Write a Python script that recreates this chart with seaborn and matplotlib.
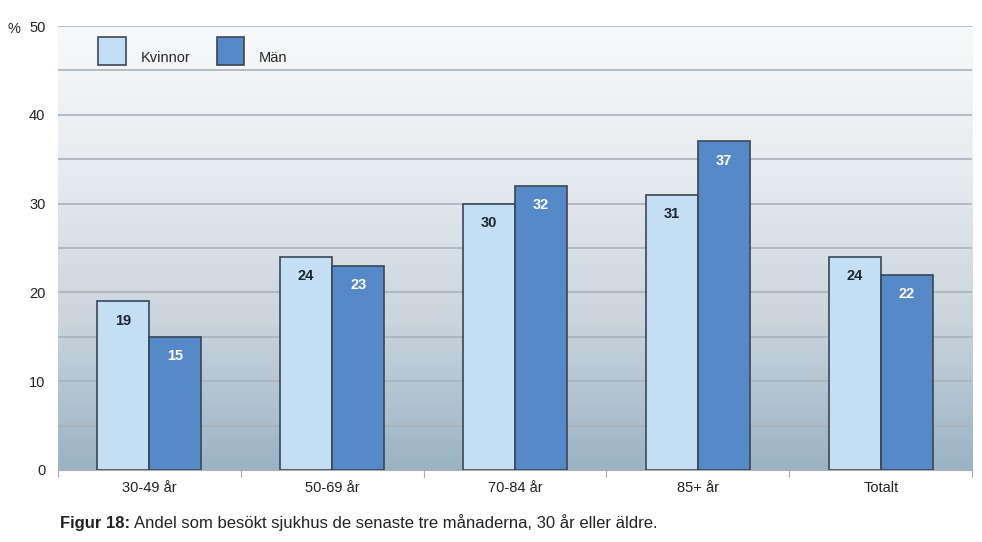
import numpy as np
import pandas as pd
import matplotlib
matplotlib.use("Agg")
import matplotlib.pyplot as plt
import seaborn as sns
from matplotlib.colors import LinearSegmentedColormap

categories = ["30-49 år", "50-69 år", "70-84 år", "85+ år", "Totalt"]
kvinnor = [19, 24, 30, 31, 24]
man = [15, 23, 32, 37, 22]
series_names = ["Kvinnor", "Män"]
yticks = [0, 10, 20, 30, 40, 50]

df = pd.DataFrame({
    "kategori": categories * 2,
    "värde": kvinnor + man,
    "kön": [series_names[0]] * len(categories) + [series_names[1]] * len(categories),
})

sns.set_style("white")
plt.rcParams["font.family"] = ["Liberation Sans", "DejaVu Sans"]

fig = plt.figure(figsize=(9.82, 5.42), dpi=100)
ax = fig.add_axes([0.059, 0.133, 0.931, 0.819])

# gradient background
cmap = LinearSegmentedColormap.from_list("bg", ["#f8f9fa", "#e6ebef", "#c9d4dc", "#9ab3c5"])
grad = np.linspace(0, 1, 256).reshape(-1, 1)
ax.imshow(grad, extent=[-0.5, 4.5, 0, 50], aspect="auto", cmap=cmap, origin="upper", zorder=0)

palette = {"Kvinnor": "#c4def3", "Män": "#5689c8"}
sns.barplot(data=df, x="kategori", y="värde", hue="kön", palette=palette,
            width=0.57, edgecolor="#3b4654", linewidth=1.2, ax=ax, zorder=3,
            saturation=1, legend=True)

for y in range(5, 51, 5):
    ax.axhline(y, color="#a9b3bb", lw=1.2, zorder=1)

for i, cont in enumerate(ax.containers):
    col = "#1c2530" if i == 0 else "white"
    ax.bar_label(cont, labels=[str(int(v)) for v in cont.datavalues], padding=-19,
                 color=col, fontsize=10.5, fontweight="bold", zorder=5)

ax.set_xlim(-0.5, 4.5)
ax.set_ylim(0, 50)
ax.set_yticks(yticks)
ax.set_yticklabels([str(t) for t in yticks], fontsize=10.5, color="#222222")
ax.tick_params(axis="y", length=0, pad=9)
ax.set_xticks(range(len(categories)))
ax.set_xticklabels(categories, fontsize=10.5, color="#222222")
ax.tick_params(axis="x", length=0, pad=8)
for xb in np.arange(-0.5, 4.6, 1.0):
    ax.plot([xb, xb], [0, -0.8], color="#aaaaaa", lw=0.8, clip_on=False, zorder=4)
ax.set_xlabel("")
ax.set_ylabel("")
for s in ["top", "right", "left"]:
    ax.spines[s].set_visible(False)
ax.spines["bottom"].set_color("#b0b0b0")

fig.text(0.008, 0.947, "%", fontsize=10.5, va="center", color="#222222")

handles, labels = ax.get_legend_handles_labels()
ax.legend(handles, labels, loc="upper left", bbox_to_anchor=(0.03, 1.005), ncol=2,
          frameon=False, fontsize=10.5, handlelength=1.9, handleheight=2.6,
          columnspacing=1.8, handletextpad=1.0)
leg = ax.get_legend()
for t in leg.get_texts():
    t.set_y(-7)

fig.text(0.061, 0.026, "Figur 18:", fontsize=12, fontweight="bold", color="#222222")
fig.text(0.136, 0.026, "Andel som besökt sjukhus de senaste tre månaderna, 30 år eller äldre.",
         fontsize=12, color="#222222")

fig.savefig("out.png", dpi=100)
